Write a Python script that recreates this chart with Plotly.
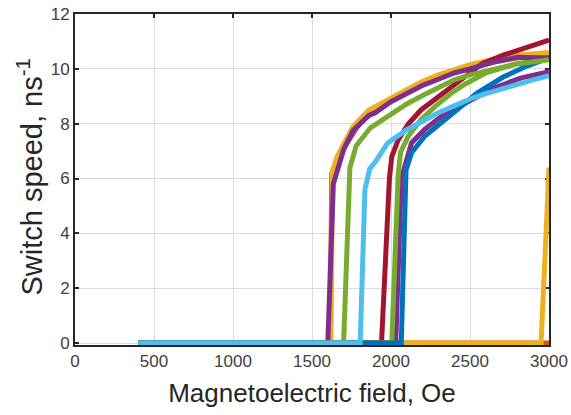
import plotly.graph_objects as go

# ---- data ----
orange_bottom_x = [400, 3000]
orange_bottom_y = [0, 0]

yellow_bottom_x = [400, 2950, 3000]
yellow_bottom_y = [0, 0, 6.4]

orange_top_x = [400, 1615, 1625, 1660, 1700, 1800, 1900, 2000, 2100, 2200, 2300, 2400, 2500, 2650, 2800, 3000]
orange_top_y = [0, 0, 6.2, 6.6, 7.1, 8.0, 8.5, 8.85, 9.15, 9.45, 9.7, 9.9, 10.05, 10.25, 10.4, 10.5]

yellow_top_x = [400, 1620, 1630, 1660, 1700, 1760, 1860, 2000, 2100, 2200, 2300, 2400, 2500, 2650, 2800, 3000]
yellow_top_y = [0, 0, 6.3, 6.8, 7.25, 7.9, 8.5, 8.95, 9.25, 9.55, 9.78, 9.98, 10.15, 10.35, 10.5, 10.6]

purple2_x = [400, 2030, 2065, 2090, 2130, 2215, 2320, 2430, 2550, 2650, 2820, 3000]
purple2_y = [0, 0, 6.0, 6.5, 7.3, 7.8, 8.27, 8.63, 9.0, 9.3, 9.66, 9.9]

darkred_x = [400, 1940, 1990, 2005, 2045, 2110, 2190, 2280, 2360, 2470, 2580, 2710, 2840, 2960, 3000]
darkred_y = [0, 0, 6.0, 6.8, 7.4, 8.0, 8.5, 8.88, 9.24, 9.72, 10.2, 10.5, 10.75, 10.98, 11.05]

green2_x = [400, 2005, 2045, 2060, 2110, 2190, 2280, 2380, 2470, 2600, 2800, 3000]
green2_y = [0, 0, 6.1, 6.95, 7.55, 8.15, 8.63, 9.1, 9.45, 9.85, 10.2, 10.35]

blue_x = [400, 2065, 2095, 2130, 2215, 2320, 2470, 2540, 2710, 2860, 3000]
blue_y = [0, 0, 6.3, 6.94, 7.55, 8.03, 8.75, 9.1, 9.7, 10.1, 10.4]

purple1_x = [400, 1600, 1635, 1660, 1700, 1760, 1860, 1900, 2000, 2100, 2200, 2300, 2400, 2500, 2650, 2800, 3000]
purple1_y = [0, 0, 5.8, 6.3, 7.05, 7.75, 8.3, 8.4, 8.8, 9.1, 9.4, 9.62, 9.85, 10.0, 10.25, 10.42, 10.4]

green1_x = [400, 1700, 1740, 1780, 1870, 1900, 2000, 2100, 2200, 2300, 2400, 2500, 2650, 2800, 3000]
green1_y = [0, 0, 6.4, 7.2, 7.85, 7.97, 8.37, 8.72, 9.03, 9.32, 9.6, 9.78, 10.0, 10.18, 10.33]

lightblue_x = [400, 1805, 1835, 1865, 1900, 1980, 2100, 2200, 2300, 2400, 2500, 2600, 2700, 2800, 2900, 3000]
lightblue_y = [0, 0, 5.6, 6.35, 6.6, 7.3, 7.78, 8.1, 8.4, 8.65, 8.9, 9.1, 9.28, 9.45, 9.6, 9.75]

x_ticks = [0, 500, 1000, 1500, 2000, 2500, 3000]
y_ticks = [0, 2, 4, 6, 8, 10, 12]

x_title = "Magnetoelectric field, Oe"
y_title = "Switch speed, ns<sup>-1</sup>"

BLUE = "#0072BD"
ORANGE = "#D95319"
YELLOW = "#EDB120"
PURPLE = "#7E2F8E"
GREEN = "#77AC30"
LIGHTBLUE = "#4DBEEE"
DARKRED = "#A2142F"

series = [
    (orange_bottom_x, orange_bottom_y, ORANGE),
    (yellow_bottom_x, yellow_bottom_y, YELLOW),
    (orange_top_x, orange_top_y, ORANGE),
    (yellow_top_x, yellow_top_y, YELLOW),
    (purple2_x, purple2_y, PURPLE),
    (darkred_x, darkred_y, DARKRED),
    (green2_x, green2_y, GREEN),
    (blue_x, blue_y, BLUE),
    (purple1_x, purple1_y, PURPLE),
    (green1_x, green1_y, GREEN),
    (lightblue_x, lightblue_y, LIGHTBLUE),
]

fig = go.Figure()
for xs, ys, col in series:
    fig.add_trace(go.Scatter(x=xs, y=ys, mode="lines",
                             line=dict(color=col, width=5),
                             showlegend=False, hoverinfo="skip"))

FONT = "Liberation Sans, Arial, Helvetica, sans-serif"
AX = "#262626"

axis_common = dict(
    showgrid=True, gridcolor="#dadada", gridwidth=1.3,
    showline=True, linecolor=AX, linewidth=2, mirror="ticks",
    ticks="inside", ticklen=4, tickwidth=1.5, tickcolor=AX,
    zeroline=False, layer="below traces",
    tickfont=dict(family=FONT, size=17, color="#404040"),
)

fig.update_xaxes(range=[0, 3000], tickvals=x_ticks,
                 title=dict(text=x_title,
                            font=dict(family=FONT, size=26, color=AX), standoff=13),
                 **axis_common)
fig.update_yaxes(range=[-0.07, 12], tickvals=y_ticks, **axis_common)

fig.add_annotation(text=y_title, textangle=-90, showarrow=False,
                   xref="paper", yref="paper", x=-0.097, y=0.5,
                   xanchor="center", yanchor="middle", yshift=2,
                   font=dict(family=FONT, size=29, color=AX))

fig.update_layout(
    width=571, height=415,
    margin=dict(l=75, r=22, t=14, b=70, autoexpand=False),
    plot_bgcolor="white", paper_bgcolor="white",
)

fig.write_html("out.html", config={"displayModeBar": False},
               post_script="document.body.style.margin='0';document.body.style.overflow='hidden';")
